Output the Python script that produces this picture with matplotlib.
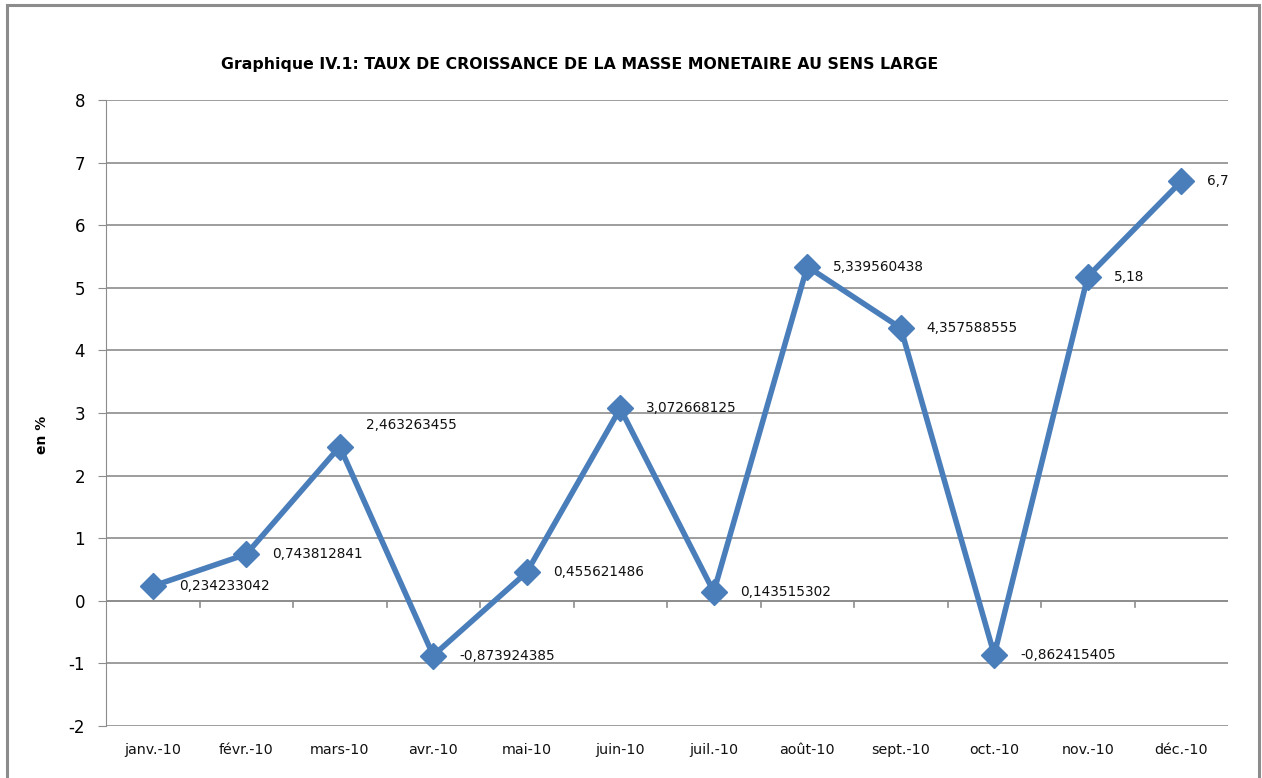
import matplotlib.pyplot as plt
from matplotlib.patches import Rectangle

months = ["janv.-10", "févr.-10", "mars-10", "avr.-10", "mai-10", "juin-10",
          "juil.-10", "août-10", "sept.-10", "oct.-10", "nov.-10", "déc.-10"]
taux = [0.234233042, 0.743812841, 2.463263455, -0.873924385, 0.455621486,
        3.072668125, 0.143515302, 5.339560438, 4.357588555, -0.862415405,
        5.18, 6.7]
labels = ["0,234233042", "0,743812841", "2,463263455", "-0,873924385",
          "0,455621486", "3,072668125", "0,143515302", "5,339560438",
          "4,357588555", "-0,862415405", "5,18", "6,7"]

W, H = 1262, 778
fig = plt.figure(figsize=(W / 100, H / 100), dpi=100)
ax = fig.add_axes([106 / W, 1 - 726 / H, (1228 - 106) / W, (726 - 100) / H])

# outer chart border
fig.patches.append(Rectangle((7 / W, -0.05), (1259 - 7) / W, 1.05 - 5 / H,
                             transform=fig.transFigure, fill=False,
                             edgecolor="#8c8c8c", lw=2.2))

x = list(range(len(months)))
ax.plot(x, taux, color="#4a7ebb", lw=4, marker="D", ms=13,
        markerfacecolor="#4a7ebb", markeredgecolor="#4a7ebb", zorder=3)

for i, (v, lab) in enumerate(zip(taux, labels)):
    dy = 22 if i == 2 else 0
    ax.annotate(lab, (i, v), xytext=(26, dy), textcoords="offset pixels",
                ha="left", va="center", fontsize=9.8, color="#111111")

ax.set_xlim(-0.5, 11.5)
ax.set_ylim(-2, 8)
ax.set_yticks(range(-2, 9))
ax.set_yticklabels([str(v) for v in range(-2, 9)], fontsize=12)
ax.yaxis.grid(True, color="#8c8c8c", lw=1.2)
ax.set_axisbelow(True)
ax.tick_params(axis="y", length=6, color="#8c8c8c", pad=9)

for s in ["top", "right", "bottom"]:
    ax.spines[s].set_visible(False)
ax.spines["left"].set_color("#8c8c8c")

# category axis crossing at zero
ax.axhline(0, color="#8c8c8c", lw=1.2, zorder=1)
ax.set_xticks([])
for b in range(1, 12):
    ax.plot([b - 0.5, b - 0.5], [0, -0.1], color="#8c8c8c", lw=1.2,
            clip_on=False, zorder=1)
for i, m in enumerate(months):
    ax.text(i, -2.38, m, ha="center", va="center", fontsize=10.3, color="#111111")

fig.text(580 / W, 1 - 65 / H,
         "Graphique IV.1: TAUX DE CROISSANCE DE LA MASSE MONETAIRE AU SENS LARGE",
         ha="center", va="center", fontsize=11.3, fontweight="semibold")
fig.text(42 / W, 1 - 435 / H, "en %", rotation=90, ha="center", va="center",
         fontsize=10, fontweight="bold")

fig.savefig("out.png", dpi=100)
